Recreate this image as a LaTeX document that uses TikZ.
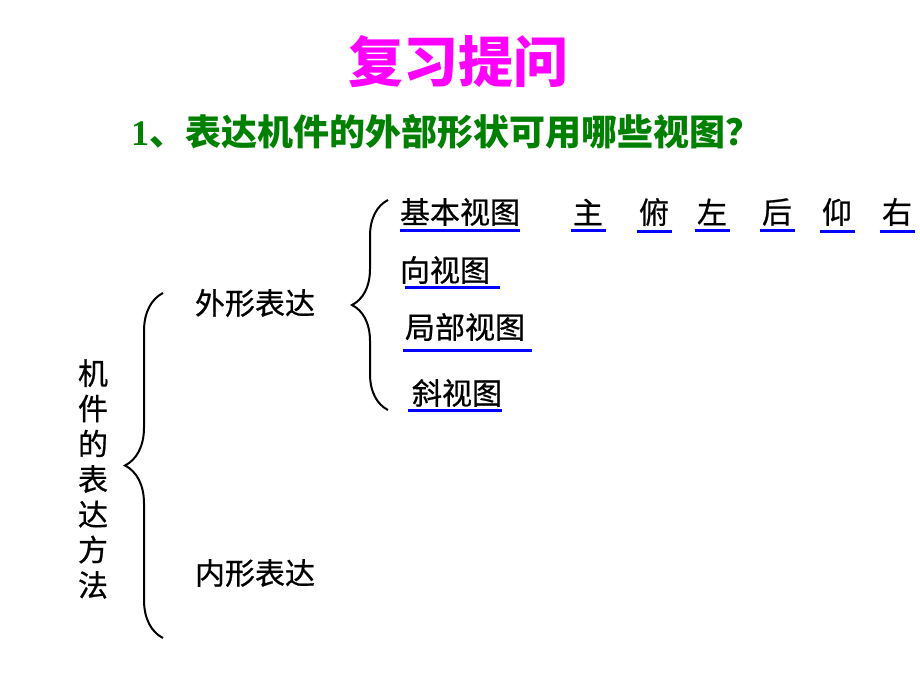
\documentclass[tikz,border=0pt]{standalone}
\usepackage{fontspec}
\usepackage{xcolor}
\usepackage{tikz}
\usetikzlibrary{positioning, decorations.pathreplacing}
\setmainfont{Liberation Serif}
\newfontfamily\cjk{Noto Sans CJK SC}
\newfontfamily\cjkbody{Noto Sans CJK SC}[FakeBold=0.7]
\definecolor{titlemagenta}{RGB}{255, 0, 255}
\definecolor{questiongreen}{RGB}{0, 128, 0}
\definecolor{lineblue}{RGB}{0, 0, 255}

\begin{document}
\begin{tikzpicture}[
        x=1pt, y=-1pt,
        txt/.style={inner sep=0pt, font=\cjkbody\fontsize{30}{35.3}\selectfont},
        uline/.style={draw=lineblue, line width=3pt},
        curly/.style={decorate, decoration={brace, amplitude=#1}, line width=2pt},
        curly/.default=36pt
    ]
        \useasboundingbox (0,0) rectangle (920,690);
        \node[inner sep=0pt, text=titlemagenta, font=\cjk\bfseries\fontsize{55}{60}\selectfont] (title) at (458,62) {复习提问};
        \node[inner sep=0pt, text=questiongreen, font=\cjk\bfseries\fontsize{36}{40}\selectfont] (question) at (446,132) {{\rmfamily\bfseries 1}、表达机件的外部形状可用哪些视图？};
        \node[txt] (basic) at (460,212) {基本视图};
        \node[txt] (front) at (588,212) {主};
        \node[txt] (top) at (654,212) {俯};
        \node[txt] (left) at (712,212) {左};
        \node[txt] (back) at (777,212) {后};
        \node[txt] (bottom) at (837,212) {仰};
        \node[txt] (right) at (897,212) {右};
        \node[txt] (direct) at (445,270) {向视图};
        \node[txt] (partial) at (465,327) {局部视图};
        \node[txt] (oblique) at (457,393) {斜视图};
        \node[txt] (outer) at (255,303) {外形表达};
        \node[txt] (inner) at (255,573) {内形表达};
        \node[txt, align=center] (method) at (93,479) {机\\件\\的\\表\\达\\方\\法};
        
        % underlines
        \draw[uline] ([yshift=-4pt]basic.south west) -- ([yshift=-4pt]basic.south east);
        \draw[uline] ([xshift=-2pt, yshift=-5pt]front.south west) -- ([xshift=3pt, yshift=-5pt]front.south east);
        \draw[uline] ([xshift=-2pt, yshift=-5pt]top.south west) -- ([xshift=3pt, yshift=-5pt]top.south east);
        \draw[uline] ([xshift=-2pt, yshift=-5pt]left.south west) -- ([xshift=3pt, yshift=-5pt]left.south east);
        \draw[uline] ([xshift=-2pt, yshift=-5pt]back.south west) -- ([xshift=3pt, yshift=-5pt]back.south east);
        \draw[uline] ([xshift=-2pt, yshift=-5pt]bottom.south west) -- ([xshift=3pt, yshift=-5pt]bottom.south east);
        \draw[uline] ([xshift=-2pt, yshift=-5pt]right.south west) -- ([xshift=3pt, yshift=-5pt]right.south east);
        \draw[uline] ([xshift=5pt, yshift=-3pt]direct.south west) -- ([xshift=10pt, yshift=-3pt]direct.south east);
        \draw[uline] ([xshift=-2pt, yshift=-9pt]partial.south west) -- ([xshift=7pt, yshift=-9pt]partial.south east);
        \draw[uline] ([xshift=-4pt, yshift=-3pt]oblique.south west) -- ([yshift=-3pt]oblique.south east);
        
        % braces
        \coordinate (views top) at (388,200);
        \coordinate (views end) at (388,410);
        \coordinate (kinds top) at (163,293);
        \coordinate (kinds end) at (163,638);
        \draw[curly] (views end) -- (views top);
        \draw[curly=38pt] (kinds end) -- (kinds top);
    \end{tikzpicture}
\end{document}
